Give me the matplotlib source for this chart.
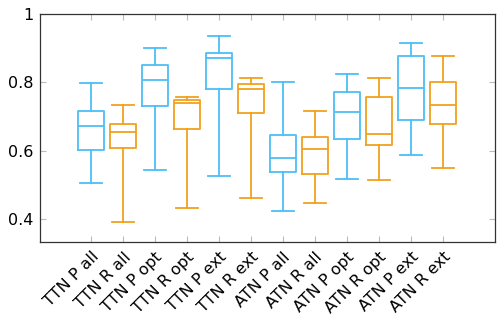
import matplotlib
matplotlib.use("Agg")
import matplotlib.pyplot as plt

labels = ["TTN P all", "TTN R all", "TTN P opt", "TTN R opt", "TTN P ext", "TTN R ext",
          "ATN P all", "ATN R all", "ATN P opt", "ATN R opt", "ATN P ext", "ATN R ext"]
whis_low = [0.504, 0.392, 0.542, 0.432, 0.525, 0.461, 0.423, 0.447, 0.516, 0.513, 0.588, 0.550]
q1 = [0.602, 0.608, 0.731, 0.662, 0.781, 0.709, 0.538, 0.531, 0.635, 0.617, 0.689, 0.678]
median = [0.671, 0.656, 0.808, 0.740, 0.873, 0.781, 0.578, 0.604, 0.714, 0.650, 0.784, 0.734]
q3 = [0.715, 0.678, 0.852, 0.750, 0.887, 0.796, 0.646, 0.640, 0.772, 0.757, 0.878, 0.802]
whis_high = [0.797, 0.733, 0.901, 0.756, 0.936, 0.814, 0.800, 0.716, 0.826, 0.814, 0.915, 0.878]

blue = "#4cbff6"
orange = "#f2a11c"

stats = []
for i in range(len(labels)):
    stats.append(dict(label=labels[i], whislo=whis_low[i], q1=q1[i], med=median[i],
                      q3=q3[i], whishi=whis_high[i], fliers=[]))

fig = plt.figure(figsize=(4.97, 3.2), dpi=100)
ax = fig.add_axes([40.3 / 497, 1 - 242.3 / 320, (495 - 40.3) / 497, (242.3 - 14.3) / 320])

positions = list(range(1, len(labels) + 1))
bp = ax.bxp(stats, positions=positions, widths=0.82, showfliers=False,
            patch_artist=False, capwidths=0.68)
for i in range(len(labels)):
    c = blue if i % 2 == 0 else orange
    bp["boxes"][i].set(color=c, linewidth=1.3)
    bp["medians"][i].set(color=c, linewidth=1.3)
    for w in bp["whiskers"][2 * i:2 * i + 2]:
        w.set(color=c, linewidth=1.3)
    for cp in bp["caps"][2 * i:2 * i + 2]:
        cp.set(color=c, linewidth=1.3)

ax.set_xlim(-0.58, 13.63)
ax.set_ylim(0.331, 1.0)
ax.set_yticks([0.4, 0.6, 0.8, 1.0])
ax.set_yticklabels(["0.4", "0.6", "0.8", "1"])
ax.set_xticks(positions)
ax.set_xticklabels(labels, rotation=45, ha="right", rotation_mode="anchor")
ax.tick_params(axis="both", direction="in", length=4, color="#bbbbbb", width=0.8,
               labelsize=11.5, top=True, right=True, pad=5)
for s in ax.spines.values():
    s.set_color("#333333")
    s.set_linewidth(0.9)

fig.savefig("out.png", dpi=100)
